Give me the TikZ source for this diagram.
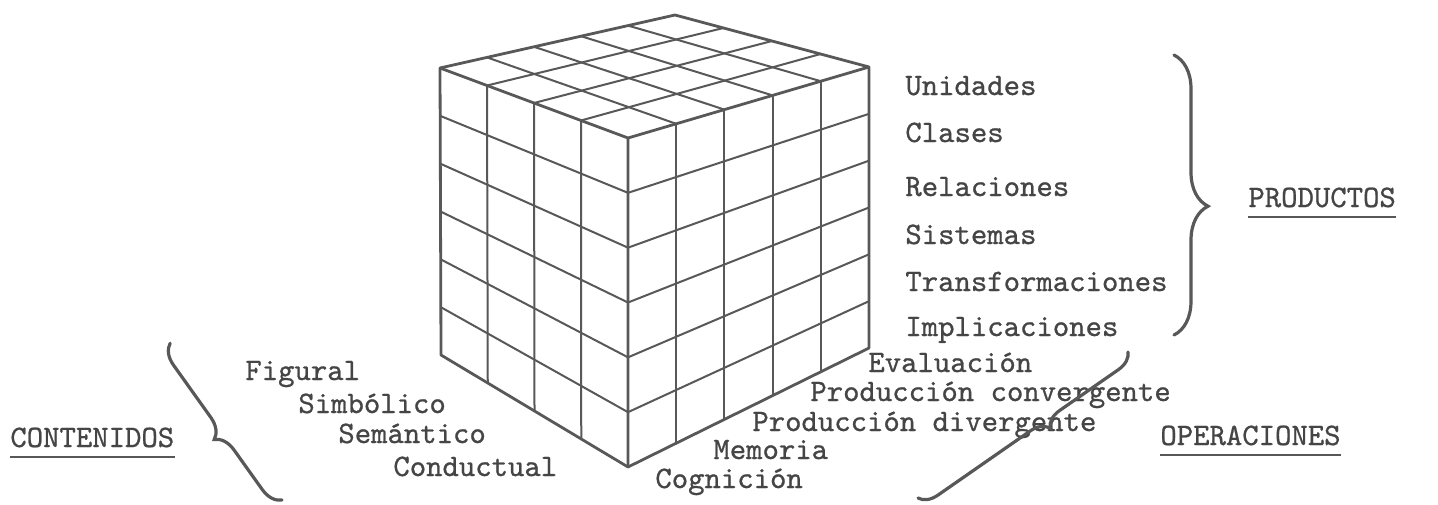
\documentclass[tikz,border=0pt]{standalone}
\usepackage{fontspec}
\newfontfamily\typer{lmmono10-regular.otf}[FakeBold=0.8]
\usetikzlibrary{calc, decorations.pathreplacing}
\definecolor{ink}{HTML}{585858}
\definecolor{pencil}{HTML}{454545}
\tikzset{
  cubeedge/.style = {draw=ink, line width=1.4pt, line join=round},
  cubegrid/.style = {draw=ink, line width=1pt},
  lbl/.style      = {font=\typer\fontsize{15.6}{18}\selectfont, text=pencil,
                     inner sep=0pt, anchor=base west},
  curly/.style    = {draw=ink, line width=1.6pt, line cap=round, decorate,
                     decoration={brace, amplitude=#1}},
  uline/.style    = {draw=ink, line width=1.4pt},
}

\begin{document}
\begin{tikzpicture}[x=0.5pt, y=-0.5pt]
  \useasboundingbox (0,0) rectangle (1438,504);

  % --- cube corners -----------------------------------------------------
  \coordinate (L)  at (440,68);
  \coordinate (B)  at (675,15);
  \coordinate (R)  at (869,67);
  \coordinate (F)  at (628,138);
  \coordinate (LB) at (441,355);
  \coordinate (FB) at (628,467);
  \coordinate (RB) at (869,348);

  % top face
  \foreach \i in {1,...,4}
    \draw[cubegrid] ($(L)!\i/5!(B)$) -- ($(F)!\i/5!(R)$);
  \foreach \j in {1,2,3}
    \draw[cubegrid] ($(L)!\j/4!(F)$) -- ($(B)!\j/4!(R)$);

  % left face (contenidos x productos)
  \foreach \i in {1,2,3}
    \draw[cubegrid] ($(L)!\i/4!(F)$) -- ($(LB)!\i/4!(FB)$);
  \foreach \j in {1,...,5}
    \draw[cubegrid] ($(L)!\j/6!(LB)$) -- ($(F)!\j/6!(FB)$);

  % right face (operaciones x productos)
  \foreach \i in {1,...,4}
    \draw[cubegrid] ($(F)!\i/5!(R)$) -- ($(FB)!\i/5!(RB)$);
  \foreach \j in {1,...,5}
    \draw[cubegrid] ($(F)!\j/6!(FB)$) -- ($(R)!\j/6!(RB)$);

  % outline
  \draw[cubeedge] (L) -- (B) -- (R) -- (RB) -- (FB) -- (LB) -- cycle;
  \draw[cubeedge] (L) -- (F) -- (R) (F) -- (FB);

  % --- productos ----------------------------------------------------------
  \node[lbl] (unidades)  at (905,95)  {Unidades};
  \node[lbl] (clases)    at (905,142) {Clases};
  \node[lbl] (relac)     at (905,196) {Relaciones};
  \node[lbl] (sistemas)  at (905,244) {Sistemas};
  \node[lbl] (transf)    at (905,291) {Transformaciones};
  \node[lbl] (implic)    at (905,336) {Implicaciones};

  \draw[curly={17pt}, decoration={aspect=0.54}] (1174,55) -- (1174,335);
  \node[lbl] (productos) at (1248,207) {PRODUCTOS};
  \draw[uline] ([yshift=-5pt]productos.base west) -- ([yshift=-5pt]productos.base east);

  % --- operaciones --------------------------------------------------------
  \node[lbl] (evaluacion) at (868,372) {Evaluación};
  \node[lbl] (convergente) at (810,401) {Producción convergente};
  \node[lbl] (divergente) at (752,431) {Producción divergente};
  \node[lbl] (memoria)    at (713,459) {Memoria};
  \node[lbl] (cognicion)  at (655,488) {Cognición};

  \draw[curly={9pt}, decoration={aspect=0.42}] (1128,352) -- (918,498);
  \node[lbl] (operaciones) at (1160,445) {OPERACIONES};
  \draw[uline] ([yshift=-5pt]operaciones.base west) -- ([yshift=-5pt]operaciones.base east);

  % --- contenidos ---------------------------------------------------------
  \node[lbl] (figural)    at (245,380) {Figural};
  \node[lbl] (simbolico)  at (298,413) {Simbólico};
  \node[lbl] (semantico)  at (338,443) {Semántico};
  \node[lbl] (conductual) at (393,476) {Conductual};

  \draw[curly={10pt}, decoration={aspect=0.46}] (282,500) -- (170,343);
  \node[lbl] (contenidos) at (10,447) {CONTENIDOS};
  \draw[uline] ([yshift=-5pt]contenidos.base west) -- ([yshift=-5pt]contenidos.base east);

\end{tikzpicture}
\end{document}
